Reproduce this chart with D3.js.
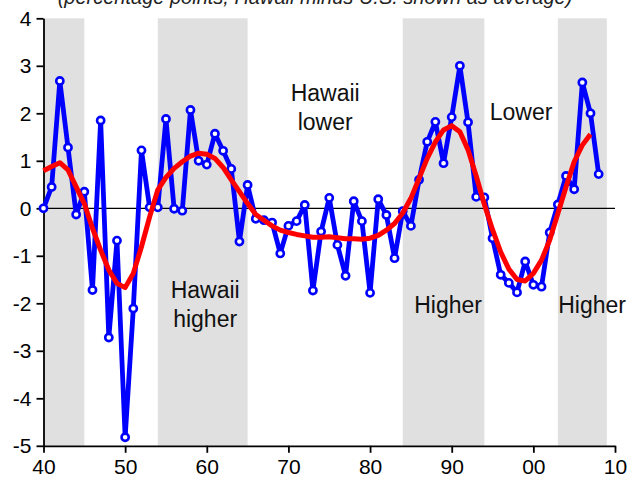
<!DOCTYPE html>
<html>
<head>
<meta charset="utf-8">
<script src="https://cdn.jsdelivr.net/npm/d3@7"></script>
<style>
  body { margin: 0; background: #fff; }
  svg { display: block; font-family: "Liberation Sans", Arial, sans-serif; }
</style>
</head>
<body>
<svg id="chart" width="637" height="483"></svg>
<script>
// Annual gap, Hawaii minus U.S. (percentage points), 1940-2008
const years = d3.range(1940, 2009);
const gap = [
  0.0, 0.45, 2.68, 1.28, -0.13, 0.35, -1.72, 1.85, -2.72, -0.68,
  -4.82, -2.11, 1.22, 0.02, 0.02, 1.88, -0.01, -0.05, 2.07, 1.0,
  0.92, 1.57, 1.21, 0.83, -0.70, 0.49, -0.22, -0.25, -0.30, -0.95,
  -0.37, -0.27, 0.07, -1.73, -0.49, 0.22, -0.77, -1.42, 0.15, -0.27,
  -1.78, 0.19, -0.14, -1.05, -0.06, -0.37, 0.6, 1.40, 1.82, 0.95,
  1.92, 3.0, 1.81, 0.24, 0.23, -0.63, -1.40, -1.57, -1.77, -1.12,
  -1.61, -1.65, -0.51, 0.08, 0.68, 0.40, 2.65, 2.0, 0.72
];

// Smoothed trend, 1940-2007
const trendYears = d3.range(1940, 2008);
const trend = [
  0.79, 0.88, 0.96, 0.81, 0.45, 0.1, -0.42, -0.88, -1.3, -1.58,
  -1.67, -1.37, -0.81, -0.18, 0.39, 0.65, 0.84, 0.98, 1.10, 1.16,
  1.14, 1.05, 0.86, 0.6, 0.35, 0.1, -0.13, -0.25, -0.37, -0.46,
  -0.51, -0.55, -0.58, -0.61, -0.61, -0.6, -0.62, -0.64, -0.64, -0.65,
  -0.63, -0.57, -0.46, -0.32, -0.1, 0.21, 0.63, 1.05, 1.40, 1.65,
  1.74, 1.61, 1.23, 0.68, 0.08, -0.45, -0.92, -1.28, -1.5, -1.53,
  -1.37, -1.09, -0.67, -0.11, 0.45, 0.98, 1.33, 1.56
];

// Shaded periods
const bandStart = [1940, 1954, 1984, 2003];
const bandEnd = [1945, 1965, 1994, 2009];

const xTicks = [1940, 1950, 1960, 1970, 1980, 1990, 2000, 2010];
const yTicks = [4, 3, 2, 1, 0, -1, -2, -3, -4, -5];

const title = '(percentage points, Hawaii minus U.S. shown as average)';

const notes = [
  { lines: ['Hawaii', 'lower'], year: 1974.5, value: 2.25 },
  { lines: ['Hawaii', 'higher'], year: 1959.8, value: -1.88 },
  { lines: ['Lower'], year: 1998.5, value: 1.85 },
  { lines: ['Higher'], year: 1989.55, value: -2.21 },
  { lines: ['Higher'], year: 2007.2, value: -2.21 }
];

const svg = d3.select('#chart');

const x = d3.scaleLinear().domain([1940, 2010]).range([43.5, 615]);
const y = d3.scaleLinear().domain([-5, 4]).range([445.8, 18.3]);

// shading
svg.append('g')
  .selectAll('rect')
  .data(bandStart)
  .join('rect')
  .attr('x', (d) => x(d))
  .attr('width', (d, i) => x(bandEnd[i]) - x(d))
  .attr('y', y(4))
  .attr('height', y(-5) - y(4))
  .attr('fill', '#e0e0e0');

// title, mostly cut off above the frame (as in the source image)
svg.append('text')
  .attr('x', 315)
  .attr('y', 4)
  .attr('text-anchor', 'middle')
  .attr('font-size', 20)
  .attr('font-style', 'italic')
  .attr('fill', '#222')
  .text(title);

// zero line
svg.append('line')
  .attr('x1', x(1940)).attr('x2', x(2010))
  .attr('y1', y(0)).attr('y2', y(0))
  .attr('stroke', '#000')
  .attr('stroke-width', 1.2);

// axes
const yAxis = svg.append('g')
  .attr('transform', `translate(${x(1940)},0)`)
  .call(d3.axisLeft(y).tickValues(yTicks).tickFormat((d) => String(d))
    .tickSize(7).tickSizeOuter(0).tickPadding(5));

const xAxis = svg.append('g')
  .attr('transform', `translate(0,${y(-5)})`)
  .call(d3.axisBottom(x).tickValues(xTicks)
    .tickFormat((d) => String(d % 100).padStart(2, '0'))
    .tickSize(7).tickSizeOuter(0).tickPadding(6));

[xAxis, yAxis].forEach((g) => {
  g.selectAll('text').attr('font-size', 21).attr('fill', '#000')
    .attr('font-family', '"Liberation Sans", Arial, sans-serif');
  g.selectAll('line, path').attr('stroke', '#000').attr('stroke-width', 1.8);
});

// blue series
const line = d3.line()
  .x((d) => x(d[0]))
  .y((d) => y(d[1]));

const gapPts = years.map((yr, i) => [yr, gap[i]]);

svg.append('path')
  .datum(gapPts)
  .attr('d', line)
  .attr('fill', 'none')
  .attr('stroke', '#0000ff')
  .attr('stroke-width', 4.8)
  .attr('stroke-linejoin', 'round');

svg.append('g')
  .selectAll('circle')
  .data(gapPts)
  .join('circle')
  .attr('cx', (d) => x(d[0]))
  .attr('cy', (d) => y(d[1]))
  .attr('r', 3.6)
  .attr('fill', '#fff')
  .attr('stroke', '#0000ff')
  .attr('stroke-width', 2.6);

// red trend
svg.append('path')
  .datum(trendYears.map((yr, i) => [yr, trend[i]]))
  .attr('d', line)
  .attr('fill', 'none')
  .attr('stroke', '#ff0000')
  .attr('stroke-width', 5)
  .attr('stroke-linejoin', 'round');

// annotations
const noteG = svg.append('g').attr('font-size', 23).attr('fill', '#111');
notes.forEach((n) => {
  const t = noteG.append('text')
    .attr('x', x(n.year))
    .attr('y', y(n.value))
    .attr('text-anchor', 'middle');
  n.lines.forEach((s, i) => {
    t.append('tspan').attr('x', x(n.year)).attr('dy', i === 0 ? 0 : 29).text(s);
  });
});
</script>
</body>
</html>
